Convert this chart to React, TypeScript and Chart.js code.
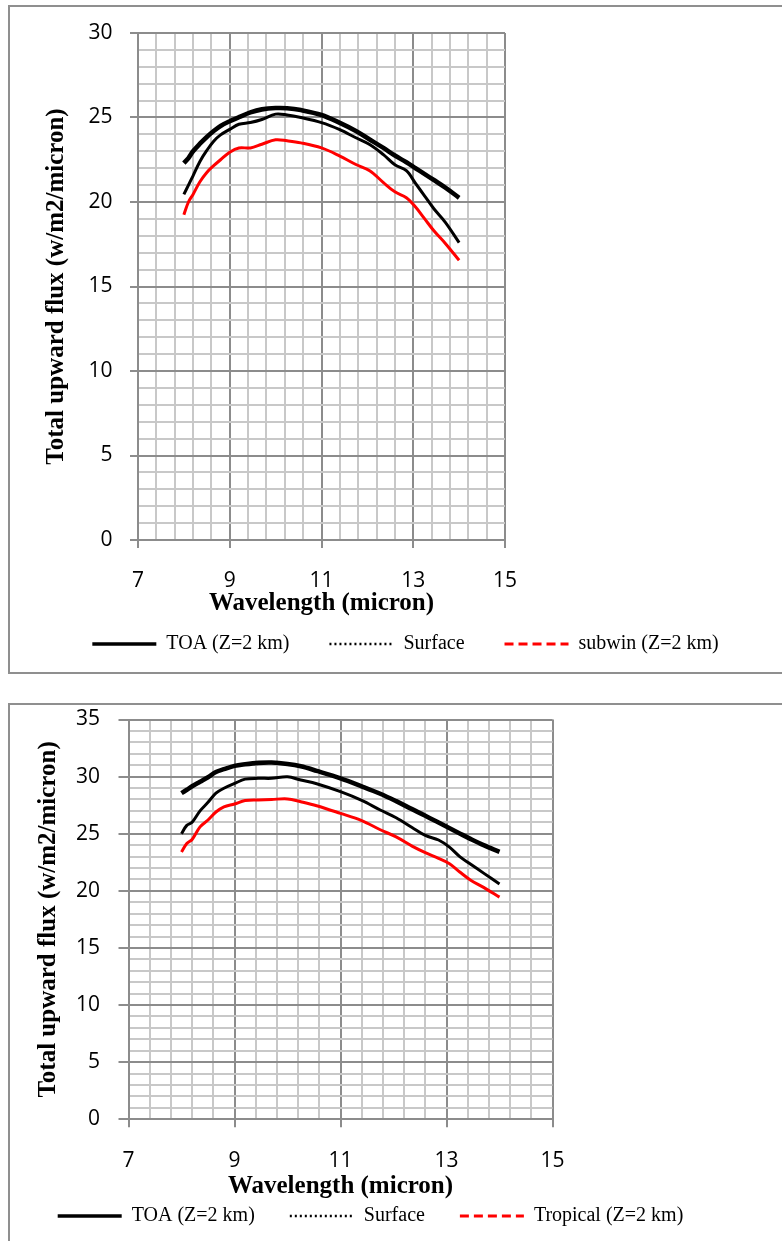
import React, { useEffect, useRef } from "react";
import { Chart, registerables } from "chart.js";

Chart.register(...registerables);

// ---------- data ----------
const wavelengths = [
  8.0, 8.1, 8.2, 8.35, 8.5, 8.65, 8.8, 9.0, 9.2, 9.45, 9.7, 10.0, 10.25, 10.55,
  11.0, 11.4, 11.75, 12.05, 12.35, 12.6, 12.85, 13.05, 13.25, 13.45, 13.7, 14.0,
];

// chart 1
const toa1 = [
  22.3, 22.6, 23.0, 23.45, 23.85, 24.2, 24.5, 24.78, 25.02, 25.3, 25.48, 25.56, 25.55, 25.44,
  25.15, 24.68, 24.2, 23.7, 23.2, 22.75, 22.35, 22.0, 21.65, 21.3, 20.85, 20.25,
];
const surface1 = [
  20.45, 21.0, 21.55, 22.4, 23.05, 23.6, 23.97, 24.3, 24.6, 24.7, 24.88, 25.2, 25.15, 25.0,
  24.7, 24.28, 23.8, 23.4, 22.8, 22.2, 21.85, 21.1, 20.35, 19.6, 18.8, 17.6,
];
const subwin1 = [
  19.25, 20.0, 20.45, 21.2, 21.75, 22.15, 22.5, 22.95, 23.2, 23.2, 23.42, 23.68, 23.62, 23.5,
  23.2, 22.72, 22.22, 21.85, 21.15, 20.6, 20.25, 19.7, 19.0, 18.3, 17.55, 16.55,
];

// chart 2
const toa2 = [
  28.55, 28.85, 29.15, 29.55, 29.95, 30.4, 30.65, 30.94, 31.08, 31.2, 31.23, 31.1, 30.9, 30.5,
  29.85, 29.15, 28.5, 27.85, 27.15, 26.58, 25.98, 25.5, 25.02, 24.55, 24.0, 23.42,
];
const surface2 = [
  25.0, 25.73, 26.0, 27.0, 27.75, 28.55, 28.98, 29.4, 29.78, 29.85, 29.85, 29.98, 29.7, 29.38,
  28.68, 27.92, 27.08, 26.4, 25.55, 24.85, 24.45, 23.85, 23.0, 22.35, 21.55, 20.6,
];
const tropical2 = [
  23.4, 24.15, 24.5, 25.6, 26.2, 26.9, 27.35, 27.6, 27.9, 27.95, 28.0, 28.05, 27.8, 27.45,
  26.78, 26.15, 25.35, 24.72, 23.92, 23.35, 22.85, 22.4, 21.65, 20.95, 20.3, 19.45,
];

const legendLabels1 = ["TOA (Z=2 km)", "Surface", "subwin (Z=2 km)"];
const legendLabels2 = ["TOA (Z=2 km)", "Surface", "Tropical (Z=2 km)"];
const xMajorLabels = ["7", "9", "11", "13", "15"];
const yTitleText = "Total upward flux (w/m2/micron)";
const xTitleText = "Wavelength (micron)";

// ---------- styles ----------
const MAJOR = "#8c8c8c";
const MINOR = "#c8c8c8";
const SERIF = "'Liberation Serif', 'Times New Roman', serif";
const SANS = "'Open Sans', sans-serif";

const lineStyles = [
  { color: "#000000", width: 4.6 },
  { color: "#000000", width: 3 },
  { color: "#ff0000", width: 3 },
];
const legendStyles = [
  { color: "#000000", width: 3.5, dash: [] as number[] },
  { color: "#000000", width: 2.5, dash: [2, 3] },
  { color: "#ff0000", width: 3, dash: [9, 5] },
];

type Layout = {
  width: number;
  height: number;
  yMax: number;
  padTop: number;
  padBottom: number;
  yAxisWidth: number;
  yTickLen: number;
  yTickPad: number;
  yTitlePad: number;
  xAxisHeight: number;
  xTickPad: number;
  xTitlePadBottom: number;
  rightWidth: number;
  legendPad: number;
};

function buildConfig(series: number[][], labels: string[], L: Layout): any {
  const isXMajor = (v: number) => xMajorLabels.includes(String(Math.round(v * 1000) / 1000));
  const isYMajor = (v: number) => Math.abs(v % 5) < 1e-6;
  return {
    type: "line",
    data: {
      labels: wavelengths,
      datasets: series.map((vals, i) => ({
        label: labels[i],
        data: vals.map((v, k) => ({ x: wavelengths[k], y: v })),
        borderColor: lineStyles[i].color,
        backgroundColor: lineStyles[i].color,
        borderWidth: lineStyles[i].width,
        pointRadius: 0,
        tension: 0.35,
        fill: false,
      })),
    },
    options: {
      responsive: false,
      animation: false,
      layout: { padding: { top: L.padTop, bottom: L.padBottom, left: 0, right: 0 } },
      plugins: {
        tooltip: { enabled: false },
        legend: {
          position: "bottom",
          labels: {
            usePointStyle: true,
            pointStyleWidth: 64,
            padding: L.legendPad,
            color: "#000",
            font: { family: SERIF, size: 20 },
            generateLabels: () =>
              labels.map((t, i) => ({
                text: t,
                fillStyle: legendStyles[i].color,
                strokeStyle: legendStyles[i].color,
                lineWidth: legendStyles[i].width,
                lineDash: legendStyles[i].dash,
                lineCap: "butt",
                pointStyle: "line",
                hidden: false,
                datasetIndex: i,
                fontColor: "#000",
              })),
          },
        },
      },
      scales: {
        x: {
          type: "linear",
          min: 7,
          max: 15,
          afterFit: (s: any) => {
            s.height = L.xAxisHeight;
          },
          ticks: {
            stepSize: 0.4,
            autoSkip: false,
            maxRotation: 0,
            padding: L.xTickPad,
            color: "#000",
            font: { family: SANS, size: 21 },
            callback: (v: any) => (isXMajor(Number(v)) ? String(Math.round(Number(v))) : ""),
          },
          grid: {
            color: (c: any) => (c.tick && isXMajor(c.tick.value) ? MAJOR : MINOR),
            lineWidth: 2,
            tickLength: 8,
            tickWidth: 2,
            tickColor: (c: any) => (c.tick && isXMajor(c.tick.value) ? MAJOR : "rgba(0,0,0,0)"),
          },
          border: { color: MAJOR, width: 2 },
          title: {
            display: true,
            text: xTitleText,
            color: "#000",
            font: { family: SERIF, size: 25, weight: "bold", lineHeight: 1 },
            padding: { top: 0, bottom: L.xTitlePadBottom },
          },
        },
        y: {
          type: "linear",
          min: 0,
          max: L.yMax,
          afterFit: (s: any) => {
            s.width = L.yAxisWidth;
            s.paddingTop = 0;
            s.paddingBottom = 0;
          },
          ticks: {
            stepSize: 1,
            maxTicksLimit: 100,
            autoSkip: false,
            padding: L.yTickPad,
            color: "#000",
            font: { family: SANS, size: 21 },
            callback: (v: any) => (isYMajor(Number(v)) ? String(v) : ""),
          },
          grid: {
            color: (c: any) => (c.tick && isYMajor(c.tick.value) ? MAJOR : MINOR),
            lineWidth: 2,
            tickLength: L.yTickLen,
            tickWidth: 2,
            tickColor: (c: any) => (c.tick && isYMajor(c.tick.value) ? MAJOR : "rgba(0,0,0,0)"),
          },
          border: { color: MAJOR, width: 2 },
          title: {
            display: true,
            text: yTitleText,
            color: "#000",
            font: { family: SERIF, size: 25, weight: "bold", lineHeight: 1 },
            padding: { top: L.yTitlePad, bottom: 0 },
          },
        },
        yr: {
          type: "linear",
          position: "right",
          min: 0,
          max: 1,
          afterFit: (s: any) => {
            s.width = L.rightWidth;
            s.paddingTop = 0;
            s.paddingBottom = 0;
          },
          grid: { display: false, drawTicks: false },
          border: { display: false },
          ticks: { display: false },
        },
      },
    },
  };
}

const layout1: Layout = {
  width: 791,
  height: 665,
  yMax: 30,
  padTop: 26,
  padBottom: 8,
  yAxisWidth: 128,
  yTickLen: 8,
  yTickPad: 17.5,
  yTitlePad: 34.5,
  xAxisHeight: 54,
  xTickPad: 20,
  xTitlePadBottom: -22.5,
  rightWidth: 296,
  legendPad: 40,
};

const layout2: Layout = {
  width: 721,
  height: 540,
  yMax: 35,
  padTop: 14.5,
  padBottom: 9,
  yAxisWidth: 118.5,
  yTickLen: 10,
  yTickPad: 18.5,
  yTitlePad: 26,
  xAxisHeight: 51.7,
  xTickPad: 21,
  xTitlePadBottom: -28,
  rightWidth: 178.5,
  legendPad: 35,
};

function FluxChart({ series, labels, L }: { series: number[][]; labels: string[]; L: Layout }) {
  const ref = useRef<HTMLCanvasElement | null>(null);
  useEffect(() => {
    if (!ref.current) return;
    const chart = new Chart(ref.current, buildConfig(series, labels, L));
    return () => chart.destroy();
  }, []);
  return <canvas ref={ref} width={L.width} height={L.height} style={{ display: "block" }} />;
}

export default function App() {
  const box: React.CSSProperties = {
    position: "absolute",
    left: 8,
    width: 800,
    border: "2px solid #8f8f8f",
    boxSizing: "border-box",
    overflow: "hidden",
    background: "#fff",
  };
  return (
    <div
      style={{
        position: "fixed",
        left: 0,
        top: 0,
        width: 782,
        height: 1241,
        overflow: "hidden",
        background: "#fff",
      }}
    >
      <div style={{ ...box, top: 5, height: 669 }}>
        <FluxChart series={[toa1, surface1, subwin1]} labels={legendLabels1} L={layout1} />
      </div>
      <div style={{ ...box, top: 703, height: 600 }}>
        <FluxChart series={[toa2, surface2, tropical2]} labels={legendLabels2} L={layout2} />
      </div>
    </div>
  );
}
